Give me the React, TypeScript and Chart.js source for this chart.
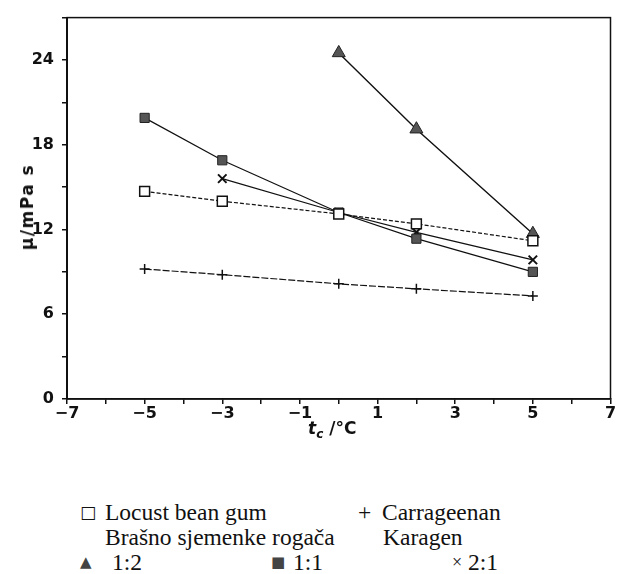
import React, { useEffect, useRef } from "react";
import { Chart, registerables } from "chart.js";

Chart.register(...registerables);

// Data (x = t_c / °C, y = μ / mPa s)
const lbgX = [-5, -3, 0, 2, 5];
const lbgY = [14.7, 14.0, 13.1, 12.4, 11.2];
const carX = [-5, -3, 0, 2, 5];
const carY = [9.2, 8.8, 8.15, 7.8, 7.3];
const r12X = [0, 2, 5];
const r12Y = [24.5, 19.1, 11.7];
const r11X = [-5, -3, 0, 2, 5];
const r11Y = [19.9, 16.9, 13.2, 11.35, 9.0];
const r21X = [-3, 0, 2, 5];
const r21Y = [15.6, 13.2, 11.8, 9.85];

const xMin = -7;
const xMax = 7;
const yMin = 0;
const yMax = 27;
const yTitle = "μ/mPa s";

const toPts = (xs: number[], ys: number[]) => xs.map((x, i) => ({ x, y: ys[i] }));

const framePlugin = {
  id: "frame",
  afterDraw(chart: any) {
    const { ctx, chartArea } = chart;
    ctx.save();
    ctx.strokeStyle = "#111";
    ctx.lineWidth = 1.5;
    ctx.strokeRect(chartArea.left, chartArea.top, chartArea.right - chartArea.left, chartArea.bottom - chartArea.top);
    ctx.restore();
  },
};

const legendFont = "'Liberation Serif', serif";

export default function App() {
  const ref = useRef<HTMLCanvasElement>(null);
  useEffect(() => {
    if (!ref.current) return;
    const chart = new Chart(ref.current, {
      type: "scatter",
      data: {
        datasets: [
          {
            label: "Locust bean gum",
            data: toPts(lbgX, lbgY),
            showLine: true,
            borderColor: "#111",
            borderWidth: 1.2,
            borderDash: [4, 2],
            pointStyle: "rect",
            pointRadius: 7,
            pointBackgroundColor: "#fff",
            pointBorderColor: "#111",
            pointBorderWidth: 1.5,
          },
          {
            label: "1:2",
            data: toPts(r12X, r12Y),
            showLine: true,
            borderColor: "#111",
            borderWidth: 1.4,
            pointStyle: "triangle",
            pointRadius: 7.5,
            pointBackgroundColor: "#555",
            pointBorderColor: "#222",
            pointBorderWidth: 1,
          },
          {
            label: "1:1",
            data: toPts(r11X, r11Y),
            showLine: true,
            borderColor: "#111",
            borderWidth: 1.2,
            pointStyle: "rect",
            pointRadius: 6.5,
            pointBackgroundColor: "#555",
            pointBorderColor: "#222",
            pointBorderWidth: 1,
          },
          {
            label: "2:1",
            data: toPts(r21X, r21Y),
            showLine: true,
            borderColor: "#111",
            borderWidth: 1.2,
            pointStyle: "crossRot",
            pointRadius: 6,
            pointBorderColor: "#111",
            pointBorderWidth: 2,
          },
          {
            label: "Carrageenan",
            data: toPts(carX, carY),
            showLine: true,
            borderColor: "#111",
            borderWidth: 1.2,
            borderDash: [7, 2],
            pointStyle: "cross",
            pointRadius: 5,
            pointBorderColor: "#111",
            pointBorderWidth: 1.5,
          },
        ],
      },
      options: {
        responsive: false,
        animation: false,
        layout: { padding: { top: 13, right: 0, left: 0, bottom: 0 } },
        plugins: { legend: { display: false }, tooltip: { enabled: false } },
        scales: {
          x: {
            type: "linear",
            min: xMin,
            max: xMax,
            afterFit: (s: any) => {
              s.height = 61;
            },
            ticks: {
              stepSize: 1,
              padding: 0,
              color: "#111",
              font: { family: "'DejaVu Sans'", weight: "bold", size: 16 },
              callback: (v: any) => (Math.abs(v % 2) === 1 ? String(v).replace("-", "−") : ""),
              maxRotation: 0,
              autoSkip: false,
            },
            grid: { drawOnChartArea: false, drawTicks: true, tickLength: 5, color: "#111", lineWidth: 1.5 },
            border: { display: true, color: "#111", width: 1.5 },
          },
          y: {
            type: "linear",
            min: yMin,
            max: yMax,
            afterFit: (s: any) => {
              s.width = 67;
            },
            ticks: {
              stepSize: 3,
              padding: 8,
              color: "#111",
              font: { family: "'DejaVu Sans'", weight: "bold", size: 16 },
              callback: (v: any) => (v % 6 === 0 ? String(v) : ""),
              autoSkip: false,
            },
            grid: { drawOnChartArea: false, drawTicks: true, tickLength: 5, color: "#111", lineWidth: 1.5 },
            border: { display: true, color: "#111", width: 2 },
          },
        },
      },
      plugins: [framePlugin],
    });
    return () => chart.destroy();
  }, []);

  const txt = (s: string, left: number, baseline: number, extra: any = {}) => (
    <span
      style={{
        position: "absolute",
        left,
        top: baseline - 19,
        fontFamily: legendFont,
        fontSize: 23.5,
        lineHeight: "23px",
        whiteSpace: "nowrap",
        color: "#111",
        ...extra,
      }}
    >
      {s}
    </span>
  );

  return (
    <div style={{ position: "absolute", left: 0, top: 0, width: 619, height: 574, background: "#fff", overflow: "hidden" }}>
      <canvas ref={ref} width={619} height={460} style={{ display: "block" }} />
      <div
        style={{
          position: "absolute",
          left: 27,
          top: 207,
          transform: "translate(-50%, -50%) rotate(-90deg)",
          fontFamily: "'DejaVu Sans', sans-serif",
          fontWeight: "bold",
          fontSize: 17,
          letterSpacing: "1.5px",
          lineHeight: "20px",
          color: "#111",
          whiteSpace: "nowrap",
        }}
      >
        {yTitle}
      </div>
      <div
        style={{
          position: "absolute",
          left: 308,
          top: 418,
          fontFamily: "'DejaVu Sans', sans-serif",
          fontWeight: "bold",
          fontSize: 17,
          lineHeight: "20px",
          color: "#111",
          whiteSpace: "nowrap",
        }}
      >
        <i>t</i>
        <sub style={{ fontSize: 12, fontStyle: "italic" }}>c</sub> /°C
      </div>
      {txt("□", 80, 520, { fontFamily: "'DejaVu Sans'", fontSize: 17 })}
      {txt("Locust bean gum", 105, 520)}
      {txt("+", 358, 520)}
      {txt("Carrageenan", 382, 520)}
      {txt("Brašno sjemenke rogača", 105, 545)}
      {txt("Karagen", 383, 545)}
      {txt("▲", 80, 570, { fontFamily: "'DejaVu Sans'", fontSize: 15, color: "#444" })}
      {txt("1:2", 112, 570)}
      {txt("■", 271, 570, { fontFamily: "'DejaVu Sans'", fontSize: 15, color: "#444" })}
      {txt("1:1", 293, 570)}
      {txt("×", 452, 570, { fontSize: 18 })}
      {txt("2:1", 468, 570)}
    </div>
  );
}
